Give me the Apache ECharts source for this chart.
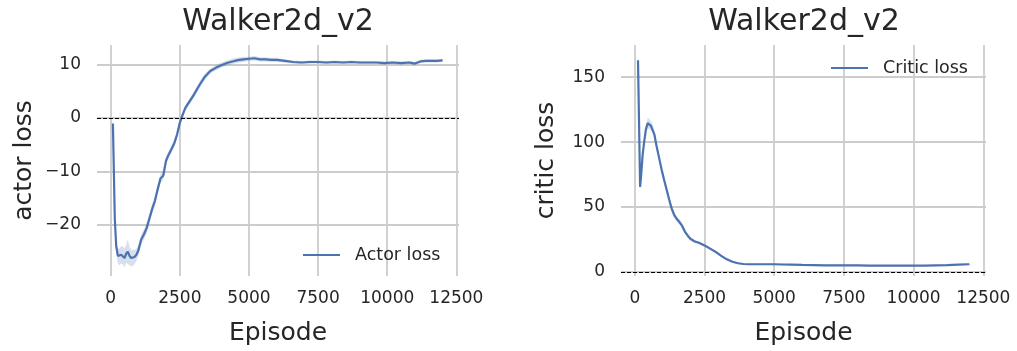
<!DOCTYPE html>
<html>
<head>
<meta charset="utf-8">
<script src="https://cdn.jsdelivr.net/npm/echarts@6/dist/echarts.min.js"></script>
<style>
  html, body { margin: 0; padding: 0; background: #ffffff; }
  #chart { width: 1017px; height: 351px; }
</style>
</head>
<body>
<div id="chart"></div>
<script>
// ---- data ----
const titleText = 'Walker2d_v2';
const xTicks = [0, 2500, 5000, 7500, 10000, 12500];
const actorTicks = [-20, -10, 0, 10];
const criticTicks = [0, 50, 100, 150];

const actorEpisodes = [80, 150, 200, 260, 320, 380, 440, 500, 560, 620, 680, 740, 800, 860, 930,
  1000, 1100, 1200, 1300, 1400, 1500, 1600, 1700, 1800, 1900, 2000, 2100, 2200, 2300, 2400,
  2500, 2600, 2700, 2800, 2900, 3000, 3200, 3400, 3600, 3800, 4000, 4200, 4400, 4600, 4800,
  5000, 5200, 5400, 5600, 5800, 6000, 6300, 6600, 6900, 7200, 7500, 7800, 8100, 8400, 8700,
  9000, 9300, 9600, 9900, 10200, 10500, 10800, 11000, 11200, 11400, 11600, 11800, 12000];
const actorLoss = [-1.0, -19.0, -24.0, -25.8, -26.0, -25.6, -25.7, -26.2, -25.4, -25.0, -25.8, -26.2, -26.2, -26.0, -25.6,
  -24.8, -22.8, -21.8, -20.6, -18.8, -17.0, -15.5, -13.3, -11.3, -10.8, -8.0, -6.8, -5.8, -4.7, -3.1,
  -0.9, 0.6, 1.9, 2.7, 3.5, 4.3, 6.1, 7.7, 8.8, 9.4, 9.9, 10.3, 10.6, 10.85, 11.0,
  11.1, 11.2, 11.0, 11.0, 10.9, 10.9, 10.7, 10.5, 10.4, 10.5, 10.5, 10.4, 10.5, 10.4, 10.5,
  10.4, 10.4, 10.4, 10.3, 10.4, 10.3, 10.4, 10.2, 10.6, 10.7, 10.7, 10.7, 10.8];
const actorSpread = [1.2, 1.5, 1.3, 1.4, 1.6, 1.6, 1.7, 1.8, 1.7, 2.3, 1.7, 1.6, 1.5, 1.3, 1.2,
  1.0, 1.0, 1.0, 1.0, 0.9, 0.9, 0.9, 0.8, 0.8, 0.8, 0.8, 0.7, 0.7, 0.7, 0.7,
  0.7, 0.6, 0.6, 0.6, 0.6, 0.6, 0.6, 0.6, 0.5, 0.5, 0.5, 0.5, 0.5, 0.5, 0.5,
  0.4, 0.4, 0.4, 0.4, 0.4, 0.4, 0.3, 0.3, 0.3, 0.3, 0.3, 0.3, 0.3, 0.3, 0.3,
  0.3, 0.3, 0.3, 0.3, 0.3, 0.3, 0.3, 0.3, 0.3, 0.3, 0.3, 0.3, 0.3];

const criticEpisodes = [115, 190, 230, 280, 340, 400, 460, 520, 580, 640, 700, 780, 860, 960,
  1050, 1140, 1230, 1320, 1410, 1500, 1600, 1700, 1800, 1900, 2000, 2150, 2300, 2500, 2700,
  2900, 3100, 3300, 3500, 3700, 3900, 4100, 4400, 4700, 5000, 5300, 5600, 6000, 6400, 6800,
  7200, 7600, 8000, 8400, 8800, 9200, 9600, 10000, 10400, 10800, 11200, 11600, 12000];
const criticLoss = [163.0, 65.5, 75.0, 90.0, 101.0, 110.0, 114.5, 114.0, 112.5, 111.0, 106.0, 97.0, 89.0, 79.0,
  71.0, 63.5, 56.0, 49.0, 44.0, 41.0, 38.5, 35.5, 31.0, 28.0, 25.5, 23.5, 22.5, 20.5, 18.0,
  15.5, 12.5, 9.8, 7.9, 6.8, 6.2, 6.0, 6.0, 6.0, 6.0, 5.8, 5.7, 5.5, 5.4, 5.2,
  5.1, 5.2, 5.1, 5.0, 5.0, 5.0, 5.0, 5.0, 4.9, 5.1, 5.3, 5.7, 6.0];
const criticSpread = [4.0, 2.0, 2.0, 2.5, 3.0, 3.5, 4.0, 4.0, 3.5, 3.0, 3.0, 3.0, 3.0, 3.0,
  3.0, 3.0, 3.0, 2.5, 2.5, 2.0, 2.0, 2.0, 1.8, 1.5, 1.5, 1.2, 1.0, 1.0, 1.0,
  1.0, 0.8, 0.8, 0.8, 0.6, 0.6, 0.5, 0.5, 0.5, 0.5, 0.5, 0.5, 0.5, 0.5, 0.5,
  0.5, 0.5, 0.5, 0.5, 0.5, 0.5, 0.5, 0.5, 0.5, 0.5, 0.5, 0.5, 0.5];

// ---- style ----
const FONT = 'DejaVu Sans';
const INK = '#262626';
const LINE = '#4c72b0';
const BAND = 'rgba(76,114,176,0.22)';
const GRIDLINE = '#cccccc';

const chart = echarts.init(document.getElementById('chart'), null, { renderer: 'canvas' });

function minusSign(v) { return String(v).replace('-', '\u2212'); }

function xAxisFor(index, min, max) {
  return {
    type: 'value', gridIndex: index, min: min, max: max,
    name: 'Episode', nameLocation: 'middle', nameGap: 45,
    nameTextStyle: { fontFamily: FONT, fontSize: 25, color: INK },
    axisLine: { show: false },
    axisTick: { show: false, customValues: xTicks },
    axisLabel: { customValues: xTicks, margin: 14, fontFamily: FONT, fontSize: 17, color: INK,
      formatter: function (v) { return String(v); } },
    splitLine: { show: true, lineStyle: { color: GRIDLINE, width: 1.8 } }
  };
}

function yAxisFor(index, min, max, ticks, label, gap) {
  return {
    type: 'value', gridIndex: index, min: min, max: max,
    name: label, nameLocation: 'middle', nameGap: gap,
    nameTextStyle: { fontFamily: FONT, fontSize: 25, color: INK },
    axisLine: { show: false },
    axisTick: { show: false, customValues: ticks },
    axisLabel: { customValues: ticks, margin: 16, fontFamily: FONT, fontSize: 17, color: INK,
      formatter: minusSign },
    splitLine: { show: true, lineStyle: { color: GRIDLINE, width: 1.8 } }
  };
}

// mean curve plus its shaded spread band (polygon: upper edge forward, lower edge back)
function curveSeries(index, name, xs, ys, spread) {
  return [
    {
      type: 'custom', xAxisIndex: index, yAxisIndex: index, silent: true, clip: true, z: 2,
      data: [[xs[0], ys[0]]],
      renderItem: function (params, api) {
        const pts = [];
        for (let i = 0; i < xs.length; i++) pts.push(api.coord([xs[i], ys[i] + spread[i]]));
        for (let i = xs.length - 1; i >= 0; i--) pts.push(api.coord([xs[i], ys[i] - spread[i]]));
        return { type: 'polygon', shape: { points: pts }, style: { fill: BAND } };
      }
    },
    {
      name: name, type: 'line', xAxisIndex: index, yAxisIndex: index,
      data: xs.map((x, i) => [x, ys[i]]),
      showSymbol: false, color: LINE, lineStyle: { color: LINE, width: 2.2 }, z: 4,
      markLine: {
        silent: true, symbol: 'none', label: { show: false },
        lineStyle: { color: '#000000', width: 1, type: [4, 2] },
        data: [{ yAxis: 0 }]
      }
    }
  ];
}

function legendFor(name, left, top) {
  return {
    data: [{ name: name, icon: 'rect' }],
    left: left, top: top, padding: [7, 7, 7, 7],
    itemWidth: 37, itemHeight: 2,
    textStyle: { fontFamily: FONT, fontSize: 17.5, color: INK, padding: [0, 0, 0, 10], lineHeight: 20 }
  };
}

const option = {
  backgroundColor: '#ffffff',
  animation: false,
  textStyle: { fontFamily: FONT, color: INK },
  grid: [
    { left: 97, top: 45, width: 362, height: 235 },
    { left: 621, top: 45, width: 365, height: 235 }
  ],
  graphic: [
    { type: 'text', x: 278, y: 22, style: { text: titleText, fontFamily: FONT, fontSize: 30, fill: INK,
      align: 'center', verticalAlign: 'middle' } },
    { type: 'text', x: 804, y: 22, style: { text: titleText, fontFamily: FONT, fontSize: 30, fill: INK,
      align: 'center', verticalAlign: 'middle' } }
  ],
  xAxis: [xAxisFor(0, -495, 12595), xAxisFor(1, -495, 12595)],
  yAxis: [
    yAxisFor(0, -29.57, 13.68, actorTicks, 'actor loss', 60),
    yAxisFor(1, -3.03, 174.7, criticTicks, 'critic loss', 62)
  ],
  legend: [legendFor('Actor loss', 296, 238), legendFor('Critic loss', 824, 51)],
  series: [].concat(
    curveSeries(0, 'Actor loss', actorEpisodes, actorLoss, actorSpread),
    curveSeries(1, 'Critic loss', criticEpisodes, criticLoss, criticSpread)
  )
};

chart.setOption(option);
</script>
</body>
</html>
